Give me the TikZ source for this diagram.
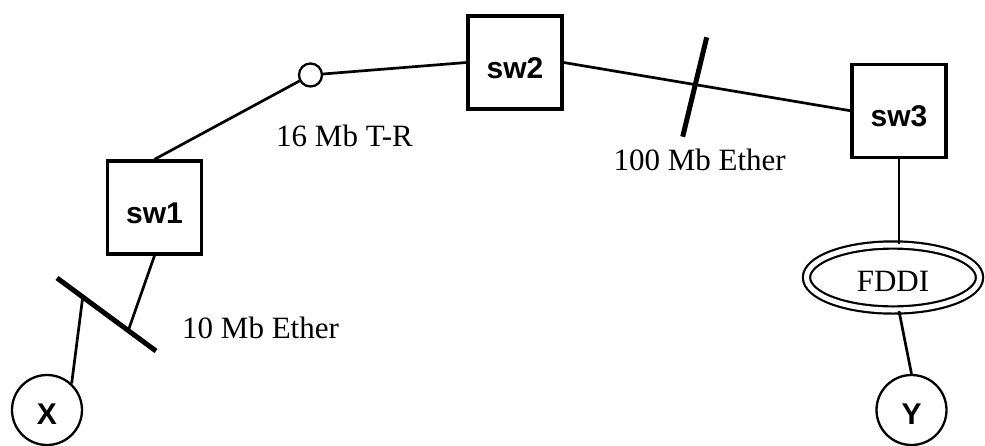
\documentclass[tikz,border=0pt]{standalone}
\usepackage{fontspec}
\setmainfont{Liberation Serif}
\setsansfont{Liberation Sans}
\usetikzlibrary{calc,shapes.geometric}
\begin{document}
\begin{tikzpicture}[x=1pt,y=-1pt,
 swbox/.style={draw,line width=3.3pt,minimum width=94pt,minimum height=93pt,inner sep=0pt,
   font=\sffamily\bfseries\fontsize{30}{30}\selectfont,text height=32.5pt,text depth=0pt},
 host/.style={circle,draw,line width=2.3pt,minimum size=70pt,inner sep=0pt,
   font=\sffamily\bfseries\fontsize{30}{30}\selectfont,text height=29.5pt,text depth=0pt},
 ring/.style={circle,draw,line width=2.3pt,minimum size=23pt,inner sep=0pt},
 fddi/.style={ellipse,draw,double,double distance=5pt,line width=2.2pt,minimum width=173pt,minimum height=65pt,
   inner sep=0pt,font=\fontsize{31}{31}\selectfont,text height=28pt,text depth=0pt},
 link/.style={line width=2.7pt},
 bar/.style={line width=5pt},
 lbl/.style={font=\fontsize{31}{31}\selectfont,inner sep=0pt,anchor=base west}]
\useasboundingbox (0,0) rectangle (985,445);
% nodes
\node[swbox] (sw1) at (154.5,207.5) {sw1};
\node[swbox] (sw2) at (515,62.5) {sw2};
\node[swbox] (sw3) at (899,110.7) {sw3};
\node[ring] (tr) at (310.5,75) {};
\node[host] (X) at (47,410) {X};
\node[host] (Y) at (911.5,410) {Y};
\node[fddi] (F) at (893,277.5) {FDDI};
% ethernet bars
\coordinate (e10a) at (57,278);
\coordinate (e10b) at (156,351);
\coordinate (e100a) at (706.7,37.3);
\coordinate (e100b) at (682.7,136.7);
\draw[bar] (e10a) -- (e10b);
\draw[bar] (e100a) -- (e100b);
% connectors
\draw[link] (sw1.north) -- (tr);
\draw[link] (tr) -- (sw2.west);
\draw[link] (sw2.east) -- (sw3.west);
\draw[link] (sw3.south) -- (sw3.south |- F.north);
\draw[link] ([xshift=6pt]F.south) -- (Y.north);
\draw[link] (sw1.south) -- ($(e10a)!0.72!(e10b)$);
\draw[link] ($(e10a)!0.26!(e10b)$) -- (X.47);
% labels
\node[lbl] (l16) at (276,146.7) {16 Mb T-R};
\node[lbl] (l100) at (613.3,170) {100 Mb Ether};
\node[lbl] (l10) at (182,338.3) {10 Mb Ether};
\end{tikzpicture}
\end{document}
